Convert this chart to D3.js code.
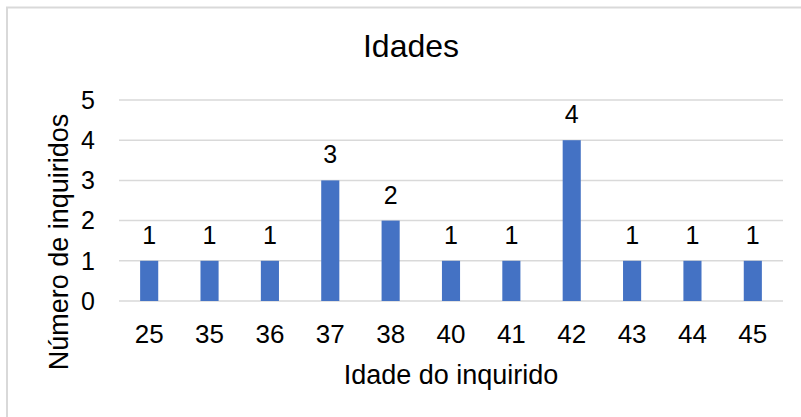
<!DOCTYPE html>
<html>
<head>
<meta charset="utf-8">
<script src="https://cdn.jsdelivr.net/npm/d3@7"></script>
<style>
  body { margin: 0; background: #fff; }
  text { font-family: "Liberation Sans", Arial, sans-serif; fill: #000; }
</style>
</head>
<body>
<div id="chart"></div>
<script>
// ages and how many respondents had each
const ages = ["25", "35", "36", "37", "38", "40", "41", "42", "43", "44", "45"];
const counts = [1, 1, 1, 3, 2, 1, 1, 4, 1, 1, 1];
const yTicks = [0, 1, 2, 3, 4, 5];

const width = 801, height = 417;
const margin = { left: 119, right: 18, top: 100, bottom: 116 };

const svg = d3.select("#chart").append("svg")
  .attr("width", width)
  .attr("height", height);

// outer chart frame
svg.append("rect")
  .attr("x", 7).attr("y", 7.5)
  .attr("width", 800).attr("height", 420)
  .attr("fill", "#fff")
  .attr("stroke", "#d9d9d9")
  .attr("stroke-width", 2);

const x = d3.scaleBand()
  .domain(ages)
  .range([margin.left, width - margin.right])
  .paddingInner(0.7)
  .paddingOuter(0.35);

const y = d3.scaleLinear()
  .domain([0, 5])
  .range([height - margin.bottom, margin.top]);

// gridlines
svg.append("g")
  .selectAll("line")
  .data(yTicks)
  .enter()
  .append("line")
  .attr("x1", margin.left)
  .attr("x2", width - margin.right)
  .attr("y1", d => y(d))
  .attr("y2", d => y(d))
  .attr("stroke", "#d9d9d9")
  .attr("stroke-width", 1.5);

// y tick labels
svg.append("g")
  .selectAll("text")
  .data(yTicks)
  .enter()
  .append("text")
  .attr("x", 95)
  .attr("y", d => y(d))
  .attr("dy", "0.35em")
  .attr("text-anchor", "end")
  .style("font-size", "25px")
  .text(d => d);

// bars
svg.append("g")
  .selectAll("rect")
  .data(counts)
  .enter()
  .append("rect")
  .attr("x", (d, i) => x(ages[i]))
  .attr("y", d => y(d))
  .attr("width", x.bandwidth())
  .attr("height", d => y(0) - y(d))
  .attr("fill", "#4472c4");

// data labels
svg.append("g")
  .selectAll("text")
  .data(counts)
  .enter()
  .append("text")
  .attr("x", (d, i) => x(ages[i]) + x.bandwidth() / 2)
  .attr("y", d => y(d) - 17)
  .attr("text-anchor", "middle")
  .style("font-size", "25px")
  .text(d => d);

// x tick labels
svg.append("g")
  .selectAll("text")
  .data(ages)
  .enter()
  .append("text")
  .attr("x", d => x(d) + x.bandwidth() / 2)
  .attr("y", 343)
  .attr("text-anchor", "middle")
  .style("font-size", "26px")
  .text(d => d);

// title
svg.append("text")
  .attr("x", 411)
  .attr("y", 57)
  .attr("text-anchor", "middle")
  .style("font-size", "32px")
  .text("Idades");

// axis titles
svg.append("text")
  .attr("x", (margin.left + width - margin.right) / 2)
  .attr("y", 384)
  .attr("text-anchor", "middle")
  .style("font-size", "27px")
  .text("Idade do inquirido");

svg.append("text")
  .attr("transform", "translate(68,242) rotate(-90)")
  .attr("text-anchor", "middle")
  .style("font-size", "27px")
  .text("Número de inquiridos");
</script>
</body>
</html>
